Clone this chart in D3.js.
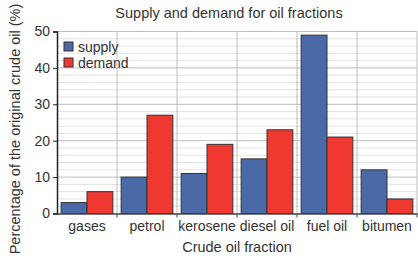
<!DOCTYPE html>
<html lang="en">
<head>
<meta charset="UTF-8">
<script src="https://d3js.org/d3.v7.min.js"></script>
<style>
  body { margin: 0; background: #fff; }
  svg text { font-family: "Liberation Sans", Arial, sans-serif; fill: #333; }
</style>
</head>
<body>
<svg id="chart" width="418" height="259"></svg>
<script>
const categories = ['gases', 'petrol', 'kerosene', 'diesel oil', 'fuel oil', 'bitumen'];
const supply = [3, 10, 11, 15, 49, 12];
const demand = [6, 27, 19, 23, 21, 4];
const seriesNames = ['supply', 'demand'];
const yTicks = [0, 10, 20, 30, 40, 50];

const colors = { supply: '#4a69a6', demand: '#ee3830' };
const svg = d3.select('#chart');
const margin = { left: 57, right: 1, top: 31.5, bottom: 45.5 };
const W = 418, H = 259;

const x = d3.scaleBand().domain(categories).range([margin.left, W - margin.right]);
const inner = d3.scaleBand().domain(seriesNames).range([0, x.bandwidth()]).paddingOuter(0.16);
const y = d3.scaleLinear().domain([0, 50]).range([H - margin.bottom, margin.top]);

// minor grid
svg.append('g').selectAll('line')
  .data(d3.range(2, 50, 2).filter(v => v % 10 !== 0))
  .join('line')
  .attr('x1', margin.left).attr('x2', W - margin.right)
  .attr('y1', d => y(d)).attr('y2', d => y(d))
  .attr('stroke', '#e3e3e3').attr('stroke-width', 1);

// major grid
svg.append('g').selectAll('line')
  .data(yTicks.slice(1))
  .join('line')
  .attr('x1', margin.left).attr('x2', W - margin.right)
  .attr('y1', d => y(d)).attr('y2', d => y(d))
  .attr('stroke', '#bdbdbd').attr('stroke-width', 1);

// vertical category separators
svg.append('g').selectAll('line')
  .data(categories.slice(1).concat(['end']))
  .join('line')
  .attr('x1', d => d === 'end' ? W - margin.right : x(d))
  .attr('x2', d => d === 'end' ? W - margin.right : x(d))
  .attr('y1', y(50)).attr('y2', y(0))
  .attr('stroke', '#bdbdbd').attr('stroke-width', 1);

// bars
const rows = categories.map((c, i) => ({ cat: c, supply: supply[i], demand: demand[i] }));
svg.append('g').selectAll('g')
  .data(rows)
  .join('g')
  .attr('transform', d => `translate(${x(d.cat)},0)`)
  .selectAll('rect')
  .data(d => seriesNames.map(s => ({ s, v: d[s] })))
  .join('rect')
  .attr('x', d => inner(d.s))
  .attr('width', inner.bandwidth())
  .attr('y', d => y(d.v))
  .attr('height', d => y(0) - y(d.v))
  .attr('fill', d => colors[d.s])
  .attr('stroke', '#333').attr('stroke-width', 1);

// y axis
const yAxis = svg.append('g')
  .attr('transform', `translate(${margin.left},0)`)
  .call(d3.axisLeft(y).tickValues(yTicks).tickSize(4).tickPadding(3));
yAxis.select('.domain').attr('stroke', '#222').attr('stroke-width', 1.5);
yAxis.selectAll('.tick line').attr('stroke', '#222');
yAxis.selectAll('text').attr('font-size', 14).attr('fill', '#333');

// x axis
const xAxis = svg.append('g')
  .attr('transform', `translate(0,${y(0)})`)
  .call(d3.axisBottom(x).tickSize(0).tickPadding(8));
xAxis.select('.domain').attr('stroke', '#444').attr('stroke-width', 1.5);
xAxis.selectAll('text').attr('font-size', 14).attr('fill', '#333');
svg.append('g').selectAll('line')
  .data(categories.slice(1).concat(['end']))
  .join('line')
  .attr('x1', d => d === 'end' ? W - margin.right : x(d))
  .attr('x2', d => d === 'end' ? W - margin.right : x(d))
  .attr('y1', y(0)).attr('y2', y(0) + 4)
  .attr('stroke', '#444');

// title
svg.append('text')
  .attr('x', 229).attr('y', 18)
  .attr('text-anchor', 'middle')
  .attr('font-size', 14.5)
  .text('Supply and demand for oil fractions');

// axis labels
svg.append('text')
  .attr('x', 237).attr('y', 252)
  .attr('text-anchor', 'middle')
  .attr('font-size', 14.5)
  .text('Crude oil fraction');

svg.append('text')
  .attr('transform', 'translate(20,129) rotate(-90)')
  .attr('text-anchor', 'middle')
  .attr('font-size', 14.5)
  .text('Percentage of the original crude oil (%)');

// legend
const legend = svg.append('g').attr('transform', 'translate(64,42)');
seriesNames.forEach((s, i) => {
  legend.append('rect')
    .attr('x', 0).attr('y', i * 16)
    .attr('width', 9).attr('height', 9)
    .attr('fill', colors[s]).attr('stroke', '#333');
  legend.append('text')
    .attr('x', 14).attr('y', i * 16 + 10)
    .attr('font-size', 14)
    .text(s);
});
</script>
</body>
</html>
